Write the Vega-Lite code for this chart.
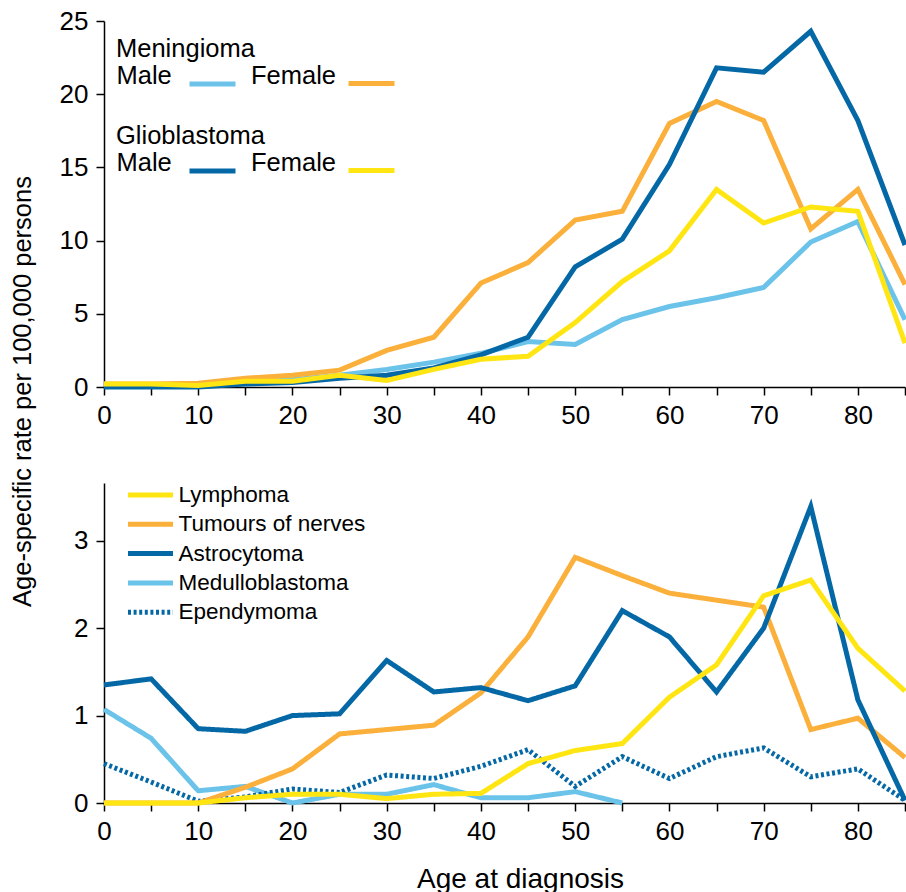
{
  "$schema": "https://vega.github.io/schema/vega-lite/v6.json",
  "background": "white",
  "padding": {"left": 10, "top": 8, "right": 0, "bottom": 0},
  "config": {
    "font": "Liberation Sans",
    "view": {"stroke": null},
    "axis": {
      "grid": false,
      "domainColor": "black",
      "domainWidth": 1.5,
      "tickColor": "black",
      "tickWidth": 1.5,
      "tickSize": 8,
      "labelColor": "black",
      "labelFont": "Liberation Sans",
      "labelFontSize": 26,
      "titleColor": "black",
      "titleFont": "Liberation Sans",
      "titleFontWeight": "normal"
    },
    "legend": {
      "padding": 0,
      "titleFont": "Liberation Sans",
      "titleFontSize": 25.5,
      "titleFontWeight": "normal",
      "titleColor": "black",
      "titlePadding": 4,
      "labelFont": "Liberation Sans",
      "labelFontSize": 25.5,
      "labelColor": "black",
      "labelLimit": 400,
      "symbolType": "stroke",
      "symbolStrokeWidth": 5
    },
    "line": {"strokeWidth": 5, "strokeCap": "butt", "strokeJoin": "miter", "clip": true}
  },
  "datasets": {
    "top": [
      {"age": 0, "tumour": "Meningioma", "sex": "Male", "rate": 0.1},
      {"age": 5, "tumour": "Meningioma", "sex": "Male", "rate": 0.1},
      {"age": 10, "tumour": "Meningioma", "sex": "Male", "rate": 0.1},
      {"age": 15, "tumour": "Meningioma", "sex": "Male", "rate": 0.4},
      {"age": 20, "tumour": "Meningioma", "sex": "Male", "rate": 0.5},
      {"age": 25, "tumour": "Meningioma", "sex": "Male", "rate": 0.8},
      {"age": 30, "tumour": "Meningioma", "sex": "Male", "rate": 1.2},
      {"age": 35, "tumour": "Meningioma", "sex": "Male", "rate": 1.7},
      {"age": 40, "tumour": "Meningioma", "sex": "Male", "rate": 2.3},
      {"age": 45, "tumour": "Meningioma", "sex": "Male", "rate": 3.1},
      {"age": 50, "tumour": "Meningioma", "sex": "Male", "rate": 2.9},
      {"age": 55, "tumour": "Meningioma", "sex": "Male", "rate": 4.6},
      {"age": 60, "tumour": "Meningioma", "sex": "Male", "rate": 5.5},
      {"age": 65, "tumour": "Meningioma", "sex": "Male", "rate": 6.1},
      {"age": 70, "tumour": "Meningioma", "sex": "Male", "rate": 6.8},
      {"age": 75, "tumour": "Meningioma", "sex": "Male", "rate": 9.9},
      {"age": 80, "tumour": "Meningioma", "sex": "Male", "rate": 11.3},
      {"age": 85, "tumour": "Meningioma", "sex": "Male", "rate": 4.6},
      {"age": 0, "tumour": "Meningioma", "sex": "Female", "rate": 0.2},
      {"age": 5, "tumour": "Meningioma", "sex": "Female", "rate": 0.2},
      {"age": 10, "tumour": "Meningioma", "sex": "Female", "rate": 0.25},
      {"age": 15, "tumour": "Meningioma", "sex": "Female", "rate": 0.6},
      {"age": 20, "tumour": "Meningioma", "sex": "Female", "rate": 0.8},
      {"age": 25, "tumour": "Meningioma", "sex": "Female", "rate": 1.15},
      {"age": 30, "tumour": "Meningioma", "sex": "Female", "rate": 2.5},
      {"age": 35, "tumour": "Meningioma", "sex": "Female", "rate": 3.4},
      {"age": 40, "tumour": "Meningioma", "sex": "Female", "rate": 7.1},
      {"age": 45, "tumour": "Meningioma", "sex": "Female", "rate": 8.5},
      {"age": 50, "tumour": "Meningioma", "sex": "Female", "rate": 11.4},
      {"age": 55, "tumour": "Meningioma", "sex": "Female", "rate": 12.0},
      {"age": 60, "tumour": "Meningioma", "sex": "Female", "rate": 18.0},
      {"age": 65, "tumour": "Meningioma", "sex": "Female", "rate": 19.5},
      {"age": 70, "tumour": "Meningioma", "sex": "Female", "rate": 18.2},
      {"age": 75, "tumour": "Meningioma", "sex": "Female", "rate": 10.8},
      {"age": 80, "tumour": "Meningioma", "sex": "Female", "rate": 13.5},
      {"age": 85, "tumour": "Meningioma", "sex": "Female", "rate": 7.0},
      {"age": 0, "tumour": "Glioblastoma", "sex": "Male", "rate": 0.0},
      {"age": 5, "tumour": "Glioblastoma", "sex": "Male", "rate": 0.0},
      {"age": 10, "tumour": "Glioblastoma", "sex": "Male", "rate": 0.0},
      {"age": 15, "tumour": "Glioblastoma", "sex": "Male", "rate": 0.2},
      {"age": 20, "tumour": "Glioblastoma", "sex": "Male", "rate": 0.3},
      {"age": 25, "tumour": "Glioblastoma", "sex": "Male", "rate": 0.6},
      {"age": 30, "tumour": "Glioblastoma", "sex": "Male", "rate": 0.8},
      {"age": 35, "tumour": "Glioblastoma", "sex": "Male", "rate": 1.3},
      {"age": 40, "tumour": "Glioblastoma", "sex": "Male", "rate": 2.2},
      {"age": 45, "tumour": "Glioblastoma", "sex": "Male", "rate": 3.4},
      {"age": 50, "tumour": "Glioblastoma", "sex": "Male", "rate": 8.2},
      {"age": 55, "tumour": "Glioblastoma", "sex": "Male", "rate": 10.1},
      {"age": 60, "tumour": "Glioblastoma", "sex": "Male", "rate": 15.2},
      {"age": 65, "tumour": "Glioblastoma", "sex": "Male", "rate": 21.8},
      {"age": 70, "tumour": "Glioblastoma", "sex": "Male", "rate": 21.5},
      {"age": 75, "tumour": "Glioblastoma", "sex": "Male", "rate": 24.3},
      {"age": 80, "tumour": "Glioblastoma", "sex": "Male", "rate": 18.2},
      {"age": 85, "tumour": "Glioblastoma", "sex": "Male", "rate": 9.7},
      {"age": 0, "tumour": "Glioblastoma", "sex": "Female", "rate": 0.2},
      {"age": 5, "tumour": "Glioblastoma", "sex": "Female", "rate": 0.2},
      {"age": 10, "tumour": "Glioblastoma", "sex": "Female", "rate": 0.1},
      {"age": 15, "tumour": "Glioblastoma", "sex": "Female", "rate": 0.4},
      {"age": 20, "tumour": "Glioblastoma", "sex": "Female", "rate": 0.4},
      {"age": 25, "tumour": "Glioblastoma", "sex": "Female", "rate": 0.8},
      {"age": 30, "tumour": "Glioblastoma", "sex": "Female", "rate": 0.45},
      {"age": 35, "tumour": "Glioblastoma", "sex": "Female", "rate": 1.2},
      {"age": 40, "tumour": "Glioblastoma", "sex": "Female", "rate": 1.9},
      {"age": 45, "tumour": "Glioblastoma", "sex": "Female", "rate": 2.1},
      {"age": 50, "tumour": "Glioblastoma", "sex": "Female", "rate": 4.4},
      {"age": 55, "tumour": "Glioblastoma", "sex": "Female", "rate": 7.2},
      {"age": 60, "tumour": "Glioblastoma", "sex": "Female", "rate": 9.3},
      {"age": 65, "tumour": "Glioblastoma", "sex": "Female", "rate": 13.5},
      {"age": 70, "tumour": "Glioblastoma", "sex": "Female", "rate": 11.2},
      {"age": 75, "tumour": "Glioblastoma", "sex": "Female", "rate": 12.3},
      {"age": 80, "tumour": "Glioblastoma", "sex": "Female", "rate": 12.0},
      {"age": 85, "tumour": "Glioblastoma", "sex": "Female", "rate": 3.0}
    ],
    "bottom": [
      {"age": 0, "type": "Medulloblastoma", "rate": 1.07},
      {"age": 5, "type": "Medulloblastoma", "rate": 0.74},
      {"age": 10, "type": "Medulloblastoma", "rate": 0.14},
      {"age": 15, "type": "Medulloblastoma", "rate": 0.19},
      {"age": 20, "type": "Medulloblastoma", "rate": 0.0},
      {"age": 25, "type": "Medulloblastoma", "rate": 0.1},
      {"age": 30, "type": "Medulloblastoma", "rate": 0.1},
      {"age": 35, "type": "Medulloblastoma", "rate": 0.21},
      {"age": 40, "type": "Medulloblastoma", "rate": 0.06},
      {"age": 45, "type": "Medulloblastoma", "rate": 0.06},
      {"age": 50, "type": "Medulloblastoma", "rate": 0.13},
      {"age": 55, "type": "Medulloblastoma", "rate": 0.0},
      {"age": 0, "type": "Ependymoma", "rate": 0.45},
      {"age": 5, "type": "Ependymoma", "rate": 0.24},
      {"age": 10, "type": "Ependymoma", "rate": 0.02},
      {"age": 15, "type": "Ependymoma", "rate": 0.07},
      {"age": 20, "type": "Ependymoma", "rate": 0.16},
      {"age": 25, "type": "Ependymoma", "rate": 0.12},
      {"age": 30, "type": "Ependymoma", "rate": 0.32},
      {"age": 35, "type": "Ependymoma", "rate": 0.28},
      {"age": 40, "type": "Ependymoma", "rate": 0.42},
      {"age": 45, "type": "Ependymoma", "rate": 0.61},
      {"age": 50, "type": "Ependymoma", "rate": 0.19},
      {"age": 55, "type": "Ependymoma", "rate": 0.53},
      {"age": 60, "type": "Ependymoma", "rate": 0.28},
      {"age": 65, "type": "Ependymoma", "rate": 0.53},
      {"age": 70, "type": "Ependymoma", "rate": 0.63},
      {"age": 75, "type": "Ependymoma", "rate": 0.3},
      {"age": 80, "type": "Ependymoma", "rate": 0.39},
      {"age": 85, "type": "Ependymoma", "rate": 0.03},
      {"age": 0, "type": "Tumours of nerves", "rate": 0.0},
      {"age": 5, "type": "Tumours of nerves", "rate": 0.0},
      {"age": 10, "type": "Tumours of nerves", "rate": 0.0},
      {"age": 15, "type": "Tumours of nerves", "rate": 0.18},
      {"age": 20, "type": "Tumours of nerves", "rate": 0.39},
      {"age": 25, "type": "Tumours of nerves", "rate": 0.79},
      {"age": 30, "type": "Tumours of nerves", "rate": 0.84},
      {"age": 35, "type": "Tumours of nerves", "rate": 0.89},
      {"age": 40, "type": "Tumours of nerves", "rate": 1.26},
      {"age": 45, "type": "Tumours of nerves", "rate": 1.9},
      {"age": 50, "type": "Tumours of nerves", "rate": 2.81},
      {"age": 55, "type": "Tumours of nerves", "rate": 2.6},
      {"age": 60, "type": "Tumours of nerves", "rate": 2.4},
      {"age": 65, "type": "Tumours of nerves", "rate": 2.32},
      {"age": 70, "type": "Tumours of nerves", "rate": 2.24},
      {"age": 75, "type": "Tumours of nerves", "rate": 0.84},
      {"age": 80, "type": "Tumours of nerves", "rate": 0.97},
      {"age": 85, "type": "Tumours of nerves", "rate": 0.52},
      {"age": 0, "type": "Astrocytoma", "rate": 1.35},
      {"age": 5, "type": "Astrocytoma", "rate": 1.42},
      {"age": 10, "type": "Astrocytoma", "rate": 0.85},
      {"age": 15, "type": "Astrocytoma", "rate": 0.82},
      {"age": 20, "type": "Astrocytoma", "rate": 1.0},
      {"age": 25, "type": "Astrocytoma", "rate": 1.02},
      {"age": 30, "type": "Astrocytoma", "rate": 1.63},
      {"age": 35, "type": "Astrocytoma", "rate": 1.27},
      {"age": 40, "type": "Astrocytoma", "rate": 1.32},
      {"age": 45, "type": "Astrocytoma", "rate": 1.17},
      {"age": 50, "type": "Astrocytoma", "rate": 1.34},
      {"age": 55, "type": "Astrocytoma", "rate": 2.2},
      {"age": 60, "type": "Astrocytoma", "rate": 1.9},
      {"age": 65, "type": "Astrocytoma", "rate": 1.27},
      {"age": 70, "type": "Astrocytoma", "rate": 2.0},
      {"age": 75, "type": "Astrocytoma", "rate": 3.39},
      {"age": 80, "type": "Astrocytoma", "rate": 1.18},
      {"age": 85, "type": "Astrocytoma", "rate": 0.03},
      {"age": 0, "type": "Lymphoma", "rate": 0.0},
      {"age": 5, "type": "Lymphoma", "rate": 0.0},
      {"age": 10, "type": "Lymphoma", "rate": 0.0},
      {"age": 15, "type": "Lymphoma", "rate": 0.06},
      {"age": 20, "type": "Lymphoma", "rate": 0.1},
      {"age": 25, "type": "Lymphoma", "rate": 0.1},
      {"age": 30, "type": "Lymphoma", "rate": 0.05},
      {"age": 35, "type": "Lymphoma", "rate": 0.1},
      {"age": 40, "type": "Lymphoma", "rate": 0.11},
      {"age": 45, "type": "Lymphoma", "rate": 0.45},
      {"age": 50, "type": "Lymphoma", "rate": 0.6},
      {"age": 55, "type": "Lymphoma", "rate": 0.68},
      {"age": 60, "type": "Lymphoma", "rate": 1.21},
      {"age": 65, "type": "Lymphoma", "rate": 1.58},
      {"age": 70, "type": "Lymphoma", "rate": 2.37},
      {"age": 75, "type": "Lymphoma", "rate": 2.55},
      {"age": 80, "type": "Lymphoma", "rate": 1.77},
      {"age": 85, "type": "Lymphoma", "rate": 1.28}
    ]
  },
  "bounds": "flush",
  "spacing": 96,
  "vconcat": [
    {
      "width": 801,
      "height": 366,
      "data": {"name": "top"},
      "encoding": {
        "x": {
          "field": "age", "type": "quantitative",
          "scale": {"domain": [0, 85], "nice": false},
          "axis": {
            "title": null,
            "values": [0, 5, 10, 15, 20, 25, 30, 35, 40, 45, 50, 55, 60, 65, 70, 75, 80, 85],
            "labelExpr": "datum.value % 10 === 0 && datum.value < 85 ? datum.label : ''",
            "labelPadding": 7,
            "labelFlush": false
          }
        },
        "y": {
          "field": "rate", "type": "quantitative",
          "scale": {"domain": [0, 25], "nice": false},
          "axis": {
            "values": [0, 5, 10, 15, 20, 25],
            "labelPadding": 8,
            "title": "Age-specific rate per 100,000 persons",
            "titleFontSize": 25.5,
            "titleX": -73.5,
            "titleY": 370,
            "titleBaseline": "alphabetic"
          }
        }
      },
      "layer": [
        {
          "transform": [{"filter": "datum.tumour === 'Meningioma' && datum.sex === 'Male'"}],
          "mark": {"type": "line"},
          "encoding": {
            "color": {
              "field": "sex", "type": "nominal",
              "scale": {"domain": ["Male"], "range": ["#6BC3EA"]},
              "legend": {
                "title": "Meningioma", "orient": "none", "legendX": 12, "legendY": 16,
                "titlePadding": -4, "symbolSize": 2116, "labelOffset": -121.5,
                "symbolOffset": 71, "labelBaseline": "alphabetic"
              }
            }
          }
        },
        {
          "transform": [{"filter": "datum.tumour === 'Meningioma' && datum.sex === 'Female'"}],
          "mark": {"type": "line"},
          "encoding": {
            "color": {
              "field": "sex", "type": "nominal",
              "scale": {"domain": ["Female"], "range": ["#FBB03B"]},
              "legend": {
                "title": null, "orient": "none", "legendX": 146, "legendY": 37,
                "symbolSize": 2116, "labelOffset": -146,
                "symbolOffset": 96, "labelBaseline": "alphabetic"
              }
            }
          }
        },
        {
          "transform": [{"filter": "datum.tumour === 'Glioblastoma' && datum.sex === 'Male'"}],
          "mark": {"type": "line"},
          "encoding": {
            "color": {
              "field": "sex", "type": "nominal",
              "scale": {"domain": ["Male"], "range": ["#0568A6"]},
              "legend": {
                "title": "Glioblastoma", "orient": "none", "legendX": 12, "legendY": 103,
                "titlePadding": -4, "symbolSize": 2116, "labelOffset": -121.5,
                "symbolOffset": 71, "labelBaseline": "alphabetic"
              }
            }
          }
        },
        {
          "transform": [{"filter": "datum.tumour === 'Glioblastoma' && datum.sex === 'Female'"}],
          "mark": {"type": "line"},
          "encoding": {
            "color": {
              "field": "sex", "type": "nominal",
              "scale": {"domain": ["Female"], "range": ["#FFE512"]},
              "legend": {
                "title": null, "orient": "none", "legendX": 146, "legendY": 124,
                "symbolSize": 2116, "labelOffset": -146,
                "symbolOffset": 96, "labelBaseline": "alphabetic"
              }
            }
          }
        }
      ],
      "resolve": {"scale": {"color": "independent"}}
    },
    {
      "width": 801,
      "height": 320,
      "data": {"name": "bottom"},
      "mark": {"type": "line"},
      "encoding": {
        "x": {
          "field": "age", "type": "quantitative",
          "scale": {"domain": [0, 85], "nice": false},
          "axis": {
            "title": "Age at diagnosis",
            "titleFontSize": 28,
            "titleX": 416,
            "titleY": 84,
            "titleBaseline": "alphabetic",
            "values": [0, 5, 10, 15, 20, 25, 30, 35, 40, 45, 50, 55, 60, 65, 70, 75, 80, 85],
            "labelExpr": "datum.value % 10 === 0 && datum.value < 85 ? datum.label : ''",
            "labelPadding": 7,
            "labelFlush": false
          }
        },
        "y": {
          "field": "rate", "type": "quantitative",
          "scale": {"domain": [0, 3.66], "nice": false},
          "axis": {"values": [0, 1, 2, 3], "labelPadding": 8, "title": null}
        },
        "color": {
          "field": "type", "type": "nominal",
          "scale": {
            "domain": ["Lymphoma", "Tumours of nerves", "Astrocytoma", "Medulloblastoma", "Ependymoma"],
            "range": ["#FFE512", "#FBB03B", "#0568A6", "#6BC3EA", "#0568A6"]
          },
          "legend": {
            "title": null, "orient": "none", "legendX": 21.5, "legendY": 463,
            "direction": "vertical", "symbolSize": 2025, "clipHeight": 22,
            "rowPadding": 6.3, "labelOffset": 3, "labelFontSize": 22.5
          }
        },
        "strokeDash": {
          "field": "type", "type": "nominal",
          "scale": {
            "domain": ["Lymphoma", "Tumours of nerves", "Astrocytoma", "Medulloblastoma", "Ependymoma"],
            "range": [[1, 0], [1, 0], [1, 0], [1, 0], [3, 2.6]]
          },
          "legend": {
            "title": null, "orient": "none", "legendX": 21.5, "legendY": 463,
            "direction": "vertical", "symbolSize": 2025, "clipHeight": 22,
            "rowPadding": 6.3, "labelOffset": 3, "labelFontSize": 22.5
          }
        }
      }
    }
  ]
}
